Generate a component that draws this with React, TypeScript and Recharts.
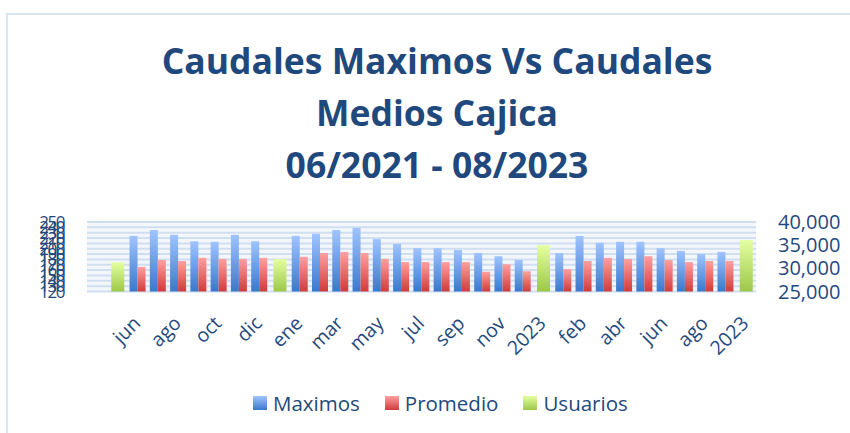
import React from 'react'
import { BarChart, Bar, XAxis, YAxis, CartesianGrid } from 'recharts'

// categorias del eje (la primera va vacia, como en la hoja original)
const categories = [
  '', '2021', 'jun', 'jul', 'ago', 'sep', 'oct', 'nov', 'dic',
  '2022', 'ene', 'feb', 'mar', 'abr', 'may', 'jun', 'jul', 'ago', 'sep', 'oct', 'nov', 'dic',
  '2023', 'ene', 'feb', 'mar', 'abr', 'may', 'jun', 'jul', 'ago', 'sep',
  '2023',
]

const maximos = [
  null, null, 224, 235, 226, 214, 213, 226, 214,
  null, 224, 228, 235, 239, 218, 209, 201, 201, 198, 192, 186, 179,
  null, 192, 224, 211, 213, 213, 201, 196, 190, 194,
  null,
]

const promedio = [
  null, null, 166, 179, 177, 183, 181, 181, 183,
  null, 185, 192, 194, 192, 181, 175, 175, 175, 175, 157, 171, 158,
  null, 162, 177, 183, 181, 186, 179, 175, 177, 177,
  null,
]

const usuarios = [
  null, 31300, null, null, null, null, null, null, null,
  32000, null, null, null, null, null, null, null, null, null, null, null, null,
  35000, null, null, null, null, null, null, null, null, null,
  36100,
]

const leftTicks = [120, 130, 140, 150, 160, 170, 180, 190, 200, 210, 220, 230, 240, 250]
const rightTicks = [25000, 30000, 35000, 40000]

const titleLines = ['Caudales Maximos Vs Caudales', 'Medios Cajica', '06/2021 - 08/2023']

const series = [
  { key: 'maximos', name: 'Maximos', top: '#a0c4ff', bottom: '#3a78cc' },
  { key: 'promedio', name: 'Promedio', top: '#ffa0a0', bottom: '#d03b3b' },
  { key: 'usuarios', name: 'Usuarios', top: '#e4ffa0', bottom: '#9cc848' },
]

const data = categories.map((name, i) => ({
  name,
  maximos: maximos[i],
  promedio: promedio[i],
  usuarios: usuarios[i],
}))

const FONT = '"Open Sans", sans-serif'
const NAVY = '#1f497d'

// etiqueta del eje x girada -45 grados
const AngledTick = (props: any) => {
  const { x, y, payload } = props
  return (
    <g transform={`translate(${x + 4},${y + 27})`}>
      <text x={0} y={0} textAnchor="end" transform="rotate(-45)" fill={NAVY} fontSize={19.5} fontFamily={FONT}>
        {payload.value}
      </text>
    </g>
  )
}

export default function App() {
  return (
    <div style={{ position: 'absolute', left: 0, top: 0, width: 850, height: 433, background: '#fff', overflow: 'hidden' }}>
      {/* marco del grafico */}
      <div style={{ position: 'absolute', left: 6, top: 13, width: 870, height: 450, border: '2px solid #d8e5f2', boxSizing: 'border-box' }} />

      <div style={{
        position: 'absolute', left: 0, top: 34, width: 874, textAlign: 'center',
        fontFamily: FONT, fontWeight: 700, fontSize: 35.5, lineHeight: '52px', color: NAVY,
      }}>
        {titleLines.map(l => <div key={l}>{l}</div>)}
      </div>

      <div style={{ position: 'absolute', left: 0, top: 0 }}>
        <BarChart width={850} height={433} data={data} barGap={0}
          margin={{ top: 222, right: 0, left: 0, bottom: 81.5 }}>
          <defs>
            {series.map(s => (
              <linearGradient key={s.key} id={`grad-${s.key}`} x1="0" y1="0" x2="0" y2="1">
                <stop offset="0%" stopColor={s.top} />
                <stop offset="100%" stopColor={s.bottom} />
              </linearGradient>
            ))}
          </defs>
          <CartesianGrid yAxisId="left" xAxisId="a" vertical={false} stroke="#cfdef0" strokeWidth={2} fill="#f3f7fc" />
          <XAxis xAxisId="a" dataKey="name" interval={1} tickLine={false} axisLine={false} height={60} tickMargin={0}
            tick={<AngledTick />} />
          <XAxis xAxisId="b" dataKey="name" hide />
          <YAxis yAxisId="left" orientation="left" width={87} domain={[120, 250]} ticks={leftTicks} interval={0}
            tickLine={false} axisLine={false} tickMargin={17}
            tick={{ fill: NAVY, fontSize: 17, fontFamily: FONT, letterSpacing: -1.5 }} />
          <YAxis yAxisId="right" orientation="right" width={94} domain={[25000, 40000]} ticks={rightTicks} interval={0}
            tickLine={false} axisLine={false} tickMargin={16}
            tickFormatter={(v: number) => v.toLocaleString('en-US')}
            tick={{ fill: NAVY, fontSize: 20, fontFamily: FONT }} />
          <Bar xAxisId="a" yAxisId="left" dataKey="maximos" name="Maximos" barSize={8} fill="url(#grad-maximos)" isAnimationActive={false} />
          <Bar xAxisId="a" yAxisId="left" dataKey="promedio" name="Promedio" barSize={8} fill="url(#grad-promedio)" isAnimationActive={false} />
          <Bar xAxisId="b" yAxisId="right" dataKey="usuarios" name="Usuarios" barSize={13} fill="url(#grad-usuarios)" isAnimationActive={false} />
        </BarChart>
      </div>

      {/* leyenda */}
      <div style={{ position: 'absolute', left: 253, top: 390, height: 25, display: 'flex', alignItems: 'center', gap: 25, fontFamily: FONT, fontSize: 20.5, color: NAVY }}>
        {series.map(s => (
          <div key={s.key} style={{ display: 'flex', alignItems: 'center' }}>
            <span style={{ width: 14, height: 14, marginRight: 6, background: `linear-gradient(${s.top}, ${s.bottom})` }} />
            <span>{s.name}</span>
          </div>
        ))}
      </div>
    </div>
  )
}
